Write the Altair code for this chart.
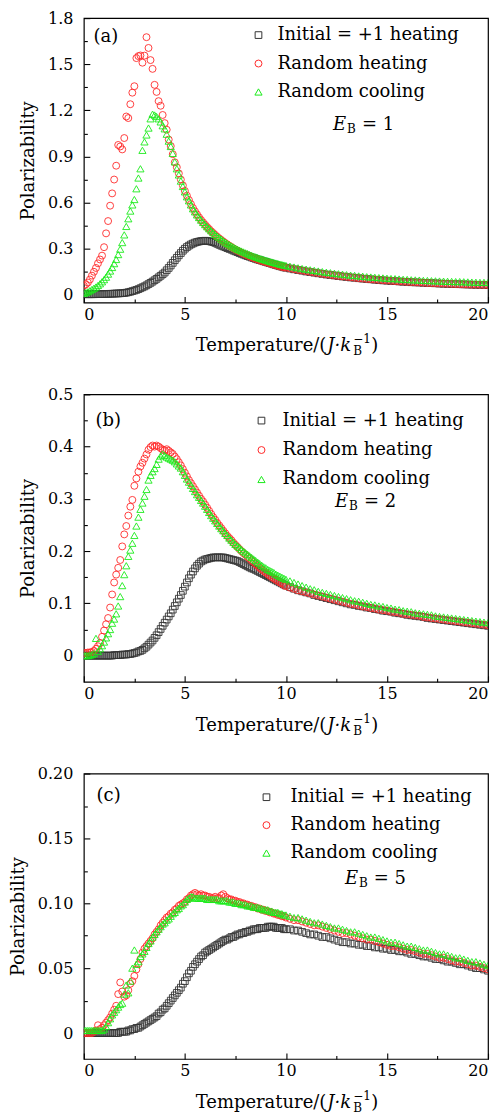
import altair as alt
import pandas as pd

# Temperature grid (J/kB): 0.1 steps up to 10, then 0.2 steps up to 20
T = [
    0.0, 0.1, 0.2, 0.3, 0.4, 0.5, 0.6, 0.7, 0.8, 0.9,
    1.0, 1.1, 1.2, 1.3, 1.4, 1.5, 1.6, 1.7, 1.8, 1.9,
    2.0, 2.1, 2.2, 2.3, 2.4, 2.5, 2.6, 2.7, 2.8, 2.9,
    3.0, 3.1, 3.2, 3.3, 3.4, 3.5, 3.6, 3.7, 3.8, 3.9,
    4.0, 4.1, 4.2, 4.3, 4.4, 4.5, 4.6, 4.7, 4.8, 4.9,
    5.0, 5.1, 5.2, 5.3, 5.4, 5.5, 5.6, 5.7, 5.8, 5.9,
    6.0, 6.1, 6.2, 6.3, 6.4, 6.5, 6.6, 6.7, 6.8, 6.9,
    7.0, 7.1, 7.2, 7.3, 7.4, 7.5, 7.6, 7.7, 7.8, 7.9,
    8.0, 8.1, 8.2, 8.3, 8.4, 8.5, 8.6, 8.7, 8.8, 8.9,
    9.0, 9.1, 9.2, 9.3, 9.4, 9.5, 9.6, 9.7, 9.8, 9.9,
    10.0,
    10.2, 10.4, 10.6, 10.8, 11.0, 11.2, 11.4, 11.6, 11.8, 12.0,
    12.2, 12.4, 12.6, 12.8, 13.0, 13.2, 13.4, 13.6, 13.8, 14.0,
    14.2, 14.4, 14.6, 14.8, 15.0, 15.2, 15.4, 15.6, 15.8, 16.0,
    16.2, 16.4, 16.6, 16.8, 17.0, 17.2, 17.4, 17.6, 17.8, 18.0,
    18.2, 18.4, 18.6, 18.8, 19.0, 19.2, 19.4, 19.6, 19.8, 20.0,
]

SERIES = ["Initial = +1 heating", "Random heating", "Random cooling"]

# ---------------- panel (a), E_B = 1 ----------------
A_SQ = [
    0.004, 0.004, 0.004, 0.004, 0.004, 0.004, 0.005, 0.005, 0.005, 0.005,
    0.005, 0.006, 0.006, 0.007, 0.007, 0.008, 0.009, 0.009, 0.010, 0.011,
    0.012, 0.014, 0.017, 0.020, 0.024, 0.028, 0.032, 0.037, 0.043, 0.049,
    0.055, 0.062, 0.070, 0.078, 0.086, 0.095, 0.104, 0.114, 0.124, 0.134,
    0.145, 0.160, 0.175, 0.191, 0.208, 0.225, 0.241, 0.257, 0.272, 0.287,
    0.300, 0.311, 0.320, 0.328, 0.334, 0.340, 0.344, 0.347, 0.350, 0.351,
    0.352, 0.351, 0.349, 0.346, 0.343, 0.338, 0.332, 0.326, 0.320, 0.315,
    0.310, 0.304, 0.299, 0.294, 0.288, 0.283, 0.278, 0.272, 0.267, 0.262,
    0.257, 0.252, 0.248, 0.243, 0.239, 0.234, 0.230, 0.226, 0.222, 0.218,
    0.214, 0.210, 0.206, 0.202, 0.198, 0.194, 0.190, 0.186, 0.183, 0.179,
    0.176,
    0.171, 0.166, 0.161, 0.157, 0.152, 0.148, 0.144, 0.140, 0.136, 0.132,
    0.129, 0.126, 0.122, 0.119, 0.116, 0.113, 0.111, 0.108, 0.105, 0.103,
    0.101, 0.098, 0.096, 0.094, 0.092, 0.090, 0.089, 0.087, 0.085, 0.084,
    0.082, 0.081, 0.080, 0.078, 0.077, 0.076, 0.075, 0.073, 0.072, 0.071,
    0.070, 0.070, 0.069, 0.068, 0.067, 0.066, 0.065, 0.065, 0.064, 0.063,
]
A_RC = [
    0.060, 0.068, 0.080, 0.100, 0.125, 0.150, 0.175, 0.205, 0.230, 0.255,
    0.310, 0.400, 0.480, 0.580, 0.660, 0.750, 0.840, 0.975, 0.965, 0.946,
    1.020, 1.160, 1.150, 1.240, 1.315, 1.357, 1.540, 1.553, 1.557, 1.510,
    1.556, 1.676, 1.606, 1.527, 1.470, 1.366, 1.320, 1.260, 1.230, 1.170,
    1.117, 1.074, 1.010, 0.968, 0.915, 0.862, 0.830, 0.790, 0.750, 0.712,
    0.676, 0.645, 0.617, 0.590, 0.565, 0.543, 0.523, 0.504, 0.487, 0.471,
    0.456, 0.441, 0.428, 0.414, 0.402, 0.390, 0.378, 0.367, 0.357, 0.347,
    0.337, 0.328, 0.319, 0.311, 0.303, 0.295, 0.288, 0.281, 0.274, 0.268,
    0.262, 0.256, 0.250, 0.245, 0.240, 0.235, 0.230, 0.226, 0.221, 0.217,
    0.213, 0.209, 0.205, 0.201, 0.197, 0.193, 0.189, 0.185, 0.182, 0.179,
    0.177,
    0.172, 0.167, 0.162, 0.158, 0.153, 0.149, 0.145, 0.141, 0.137, 0.133,
    0.130, 0.126, 0.123, 0.120, 0.117, 0.114, 0.111, 0.108, 0.106, 0.103,
    0.101, 0.099, 0.097, 0.095, 0.093, 0.091, 0.089, 0.087, 0.086, 0.084,
    0.083, 0.081, 0.080, 0.079, 0.077, 0.076, 0.075, 0.074, 0.073, 0.072,
    0.071, 0.070, 0.069, 0.068, 0.067, 0.066, 0.066, 0.065, 0.064, 0.064,
]
A_GC = [
    0.010, 0.015, 0.020, 0.027, 0.035, 0.043, 0.051, 0.061, 0.072, 0.085,
    0.099, 0.115, 0.135, 0.155, 0.178, 0.203, 0.230, 0.262, 0.297, 0.340,
    0.390, 0.445, 0.495, 0.545, 0.585, 0.620, 0.690, 0.760, 0.820, 0.940,
    0.995, 1.040, 1.085, 1.145, 1.175, 1.170, 1.160, 1.145, 1.125, 1.100,
    1.080, 1.045, 1.000, 0.965, 0.920, 0.865, 0.820, 0.780, 0.740, 0.705,
    0.670, 0.638, 0.612, 0.585, 0.560, 0.540, 0.520, 0.503, 0.486, 0.471,
    0.457, 0.443, 0.430, 0.417, 0.405, 0.393, 0.382, 0.372, 0.362, 0.352,
    0.343, 0.334, 0.326, 0.318, 0.311, 0.304, 0.297, 0.291, 0.285, 0.279,
    0.273, 0.268, 0.262, 0.257, 0.252, 0.247, 0.243, 0.238, 0.234, 0.230,
    0.226, 0.222, 0.218, 0.214, 0.211, 0.207, 0.204, 0.200, 0.197, 0.194,
    0.191,
    0.186, 0.181, 0.176, 0.171, 0.167, 0.163, 0.159, 0.155, 0.151, 0.147,
    0.144, 0.140, 0.137, 0.134, 0.131, 0.128, 0.126, 0.123, 0.121, 0.118,
    0.116, 0.114, 0.112, 0.110, 0.108, 0.106, 0.105, 0.103, 0.101, 0.100,
    0.098, 0.097, 0.096, 0.094, 0.093, 0.092, 0.091, 0.090, 0.089, 0.088,
    0.087, 0.086, 0.086, 0.085, 0.084, 0.083, 0.082, 0.081, 0.081, 0.080,
]

# ---------------- panel (b), E_B = 2 ----------------
B_SQ = [
    0.000, 0.000, 0.000, 0.000, 0.000, 0.000, 0.000, 0.000, 0.000, 0.000,
    0.000, 0.000, 0.000, 0.000, 0.000, 0.001, 0.001, 0.001, 0.001, 0.002,
    0.002, 0.002, 0.003, 0.003, 0.004, 0.005, 0.006, 0.008, 0.009, 0.011,
    0.014, 0.017, 0.021, 0.025, 0.029, 0.034, 0.039, 0.045, 0.051, 0.057,
    0.063, 0.069, 0.075, 0.081, 0.088, 0.095, 0.102, 0.109, 0.116, 0.124,
    0.132, 0.140, 0.148, 0.155, 0.161, 0.167, 0.172, 0.176, 0.180, 0.182,
    0.184, 0.185, 0.186, 0.187, 0.188, 0.188, 0.188, 0.188, 0.188, 0.188,
    0.187, 0.186, 0.185, 0.184, 0.183, 0.182, 0.181, 0.179, 0.177, 0.175,
    0.173, 0.171, 0.169, 0.167, 0.166, 0.164, 0.162, 0.160, 0.158, 0.156,
    0.154, 0.152, 0.150, 0.148, 0.146, 0.144, 0.142, 0.140, 0.138, 0.136,
    0.134,
    0.131, 0.128, 0.125, 0.123, 0.121, 0.119, 0.116, 0.114, 0.112, 0.110,
    0.108, 0.106, 0.104, 0.102, 0.100, 0.098, 0.097, 0.095, 0.094, 0.092,
    0.091, 0.089, 0.088, 0.086, 0.085, 0.084, 0.082, 0.081, 0.080, 0.078,
    0.077, 0.076, 0.075, 0.074, 0.072, 0.071, 0.070, 0.069, 0.068, 0.067,
    0.066, 0.065, 0.064, 0.063, 0.062, 0.061, 0.060, 0.059, 0.058, 0.057,
]
B_RC = [
    0.005, 0.005, 0.006, 0.006, 0.007, 0.009, 0.013, 0.018, 0.024, 0.036,
    0.048, 0.060, 0.072, 0.092, 0.117, 0.140, 0.155, 0.168, 0.183, 0.209,
    0.232, 0.248, 0.268, 0.285, 0.298, 0.325, 0.339, 0.352, 0.362, 0.369,
    0.377, 0.385, 0.394, 0.399, 0.402, 0.400, 0.402, 0.400, 0.397, 0.394,
    0.393, 0.395, 0.392, 0.389, 0.386, 0.381, 0.376, 0.370, 0.364, 0.357,
    0.350, 0.343, 0.336, 0.330, 0.324, 0.318, 0.312, 0.306, 0.300, 0.295,
    0.289, 0.283, 0.277, 0.271, 0.265, 0.260, 0.254, 0.249, 0.244, 0.239,
    0.234, 0.229, 0.225, 0.221, 0.216, 0.212, 0.208, 0.204, 0.200, 0.196,
    0.193, 0.189, 0.186, 0.182, 0.179, 0.175, 0.172, 0.168, 0.165, 0.162,
    0.159, 0.156, 0.153, 0.150, 0.148, 0.145, 0.143, 0.140, 0.138, 0.135,
    0.133,
    0.130, 0.128, 0.125, 0.123, 0.121, 0.119, 0.117, 0.115, 0.113, 0.111,
    0.109, 0.107, 0.105, 0.103, 0.101, 0.099, 0.098, 0.096, 0.094, 0.093,
    0.091, 0.090, 0.088, 0.087, 0.086, 0.084, 0.083, 0.082, 0.080, 0.079,
    0.078, 0.077, 0.076, 0.074, 0.073, 0.072, 0.071, 0.070, 0.069, 0.068,
    0.067, 0.066, 0.065, 0.064, 0.063, 0.062, 0.061, 0.060, 0.059, 0.058,
]
B_GC = [
    0.000, 0.000, 0.000, 0.001, 0.002, 0.004, 0.033, 0.008, 0.013, 0.019,
    0.026, 0.034, 0.042, 0.050, 0.062, 0.070, 0.080, 0.095, 0.113, 0.134,
    0.155, 0.172, 0.190, 0.202, 0.215, 0.230, 0.248, 0.265, 0.280, 0.292,
    0.305, 0.318, 0.336, 0.345, 0.352, 0.358, 0.366, 0.376, 0.382, 0.386,
    0.383, 0.380, 0.378, 0.376, 0.374, 0.371, 0.367, 0.363, 0.359, 0.352,
    0.345, 0.338, 0.332, 0.326, 0.320, 0.314, 0.308, 0.303, 0.297, 0.292,
    0.286, 0.280, 0.274, 0.268, 0.263, 0.258, 0.253, 0.248, 0.243, 0.239,
    0.234, 0.230, 0.225, 0.221, 0.217, 0.213, 0.210, 0.207, 0.203, 0.200,
    0.197, 0.194, 0.191, 0.188, 0.185, 0.182, 0.179, 0.176, 0.173, 0.170,
    0.168, 0.165, 0.163, 0.161, 0.159, 0.156, 0.154, 0.152, 0.150, 0.148,
    0.146,
    0.143, 0.140, 0.137, 0.134, 0.131, 0.128, 0.126, 0.123, 0.121, 0.119,
    0.117, 0.115, 0.113, 0.111, 0.109, 0.107, 0.105, 0.104, 0.102, 0.100,
    0.098, 0.097, 0.095, 0.094, 0.092, 0.091, 0.089, 0.088, 0.086, 0.085,
    0.084, 0.082, 0.081, 0.080, 0.079, 0.078, 0.076, 0.075, 0.074, 0.073,
    0.072, 0.071, 0.070, 0.069, 0.068, 0.067, 0.066, 0.065, 0.064, 0.063,
]

# ---------------- panel (c), E_B = 5 ----------------
C_SQ = [
    0.000, 0.000, 0.000, 0.000, 0.000, 0.000, 0.000, 0.000, 0.000, 0.000,
    0.000, 0.000, 0.000, 0.000, 0.000, 0.000, 0.000, 0.000, 0.001, 0.001,
    0.001, 0.001, 0.002, 0.002, 0.003, 0.003, 0.004, 0.004, 0.005, 0.006,
    0.007, 0.008, 0.009, 0.010, 0.011, 0.012, 0.013, 0.015, 0.016, 0.018,
    0.019, 0.021, 0.023, 0.025, 0.027, 0.029, 0.031, 0.033, 0.035, 0.038,
    0.040, 0.043, 0.046, 0.048, 0.051, 0.053, 0.055, 0.057, 0.059, 0.060,
    0.062, 0.063, 0.064, 0.065, 0.066, 0.067, 0.068, 0.069, 0.070, 0.071,
    0.072, 0.072, 0.073, 0.074, 0.074, 0.075, 0.076, 0.076, 0.077, 0.077,
    0.078, 0.078, 0.079, 0.079, 0.080, 0.080, 0.080, 0.081, 0.081, 0.081,
    0.081, 0.082, 0.082, 0.082, 0.082, 0.081, 0.081, 0.081, 0.081, 0.080,
    0.080,
    0.080, 0.079, 0.079, 0.078, 0.077, 0.076, 0.076, 0.075, 0.074, 0.074,
    0.073, 0.072, 0.071, 0.070, 0.070, 0.069, 0.069, 0.068, 0.068, 0.067,
    0.067, 0.066, 0.066, 0.065, 0.065, 0.064, 0.064, 0.063, 0.063, 0.062,
    0.061, 0.061, 0.060, 0.059, 0.059, 0.058, 0.057, 0.057, 0.056, 0.055,
    0.055, 0.054, 0.053, 0.053, 0.052, 0.051, 0.050, 0.050, 0.049, 0.048,
]
C_RC = [
    0.000, 0.000, 0.000, 0.000, 0.000, 0.001, 0.002, 0.006, 0.003, 0.004,
    0.006, 0.008, 0.010, 0.012, 0.015, 0.018, 0.021, 0.030, 0.039, 0.032,
    0.028, 0.029, 0.033, 0.038, 0.040, 0.044, 0.049, 0.053, 0.057, 0.062,
    0.065, 0.067, 0.069, 0.071, 0.073, 0.076, 0.078, 0.080, 0.083, 0.085,
    0.087, 0.089, 0.090, 0.092, 0.093, 0.095, 0.096, 0.098, 0.099, 0.100,
    0.101, 0.103, 0.104, 0.106, 0.107, 0.108, 0.107, 0.106, 0.107, 0.106,
    0.106, 0.105, 0.105, 0.104, 0.104, 0.105, 0.104, 0.104, 0.106, 0.107,
    0.105, 0.104, 0.103, 0.103, 0.102, 0.102, 0.101, 0.101, 0.100, 0.100,
    0.099, 0.099, 0.098, 0.098, 0.097, 0.097, 0.096, 0.096, 0.095, 0.095,
    0.094, 0.094, 0.093, 0.093, 0.092, 0.092, 0.091, 0.091, 0.090, 0.090,
    0.089,
    0.088, 0.087, 0.087, 0.086, 0.085, 0.084, 0.083, 0.083, 0.082, 0.081,
    0.080, 0.079, 0.078, 0.077, 0.077, 0.076, 0.075, 0.074, 0.073, 0.072,
    0.072, 0.071, 0.070, 0.069, 0.068, 0.067, 0.067, 0.066, 0.065, 0.064,
    0.064, 0.063, 0.062, 0.061, 0.061, 0.060, 0.059, 0.058, 0.058, 0.057,
    0.056, 0.055, 0.055, 0.054, 0.053, 0.052, 0.052, 0.051, 0.050, 0.049,
]
C_GC = [
    0.002, 0.002, 0.002, 0.002, 0.002, 0.002, 0.002, 0.002, 0.002, 0.002,
    0.003, 0.005, 0.008, 0.011, 0.014, 0.016, 0.018, 0.020, 0.022, 0.023,
    0.030, 0.037, 0.031, 0.040, 0.050, 0.064, 0.053, 0.055, 0.059, 0.061,
    0.063, 0.066, 0.069, 0.071, 0.074, 0.076, 0.078, 0.080, 0.082, 0.084,
    0.085, 0.087, 0.088, 0.090, 0.092, 0.093, 0.095, 0.096, 0.098, 0.099,
    0.101, 0.103, 0.104, 0.105, 0.105, 0.104, 0.104, 0.104, 0.104, 0.104,
    0.104, 0.103, 0.103, 0.103, 0.103, 0.103, 0.103, 0.102, 0.102, 0.102,
    0.102, 0.102, 0.101, 0.101, 0.101, 0.100, 0.100, 0.100, 0.099, 0.099,
    0.099, 0.098, 0.098, 0.098, 0.097, 0.097, 0.097, 0.096, 0.096, 0.095,
    0.095, 0.095, 0.094, 0.094, 0.093, 0.093, 0.093, 0.092, 0.092, 0.091,
    0.091,
    0.090, 0.089, 0.089, 0.088, 0.087, 0.086, 0.085, 0.085, 0.084, 0.083,
    0.082, 0.081, 0.081, 0.080, 0.079, 0.078, 0.078, 0.077, 0.076, 0.075,
    0.074, 0.074, 0.073, 0.072, 0.071, 0.070, 0.070, 0.069, 0.068, 0.067,
    0.067, 0.066, 0.065, 0.064, 0.064, 0.063, 0.062, 0.061, 0.061, 0.060,
    0.059, 0.058, 0.058, 0.057, 0.056, 0.055, 0.055, 0.054, 0.053, 0.052,
]

for _s in (A_SQ, A_RC, A_GC, B_SQ, B_RC, B_GC, C_SQ, C_RC, C_GC):
    assert len(_s) == len(T), len(_s)

X_MAJOR = [0, 5, 10, 15, 20]
X_MINOR = [2.5, 7.5, 12.5, 17.5]

FONT = "DejaVu Serif"
COLORS = ["#333333", "#ff2a2a", "#1aeb1a"]
SHAPES = ["square", "circle", "triangle-up"]
SIZES = [45, 52, 72]

# x-axis title pieces: Temperature/(J·k_B^-1)
XT_MAIN = "Temperature/("
XT_ITAL = "J·k"
XT_SUB = "B"
XT_SUP = "−1"
XT_CLOSE = ")"


def make_df(sq, rc, gc):
    rows = []
    for name, vals in zip(SERIES, (sq, rc, gc)):
        for t, v in zip(T, vals):
            rows.append({"T": t, "P": v, "series": name})
    return pd.DataFrame(rows)


def text_layer(df, xs, ys, field, **kw):
    return alt.Chart(df).mark_text(color="black", font=FONT, **kw).encode(
        x=alt.X("T:Q", scale=xs, axis=None),
        y=alt.Y("P:Q", scale=ys, axis=None),
        text=f"{field}:N",
    )


def panel(df, ydom, ymaj, ymin, yfmt, height, leg, tag, tagpos, eb, ebpos):
    xs = alt.Scale(domain=[0, 20], nice=False, zero=False)
    ys = alt.Scale(domain=ydom, nice=False, zero=False)
    label_expr = f"datum.value == 0 ? '0' : format(datum.value, '{yfmt}')"
    legend = alt.Legend(
        title=None, orient="none", legendX=leg[0], legendY=leg[1],
        labelFont=FONT, labelFontSize=18, labelColor="black", labelLimit=400,
        symbolSize=55, symbolStrokeWidth=1, rowPadding=leg[2], labelOffset=leg[3],
        padding=0,
    )
    pts = alt.Chart(df).mark_point(filled=False, strokeWidth=0.9, opacity=1, clip=True).encode(
        x=alt.X("T:Q", scale=xs, axis=alt.Axis(
            values=X_MAJOR, format="d", tickSize={"expr": "-6"}, labelPadding=10,
            title=None, orient="bottom")),
        y=alt.Y("P:Q", scale=ys, axis=alt.Axis(
            values=ymaj, labelExpr=label_expr, tickSize={"expr": "-6"}, labelPadding=17,
            title="Polarizability", titlePadding=10, orient="left")),
        color=alt.Color("series:N", scale=alt.Scale(domain=SERIES, range=COLORS), legend=legend),
        shape=alt.Shape("series:N", scale=alt.Scale(domain=SERIES, range=SHAPES), legend=legend),
        size=alt.Size("series:N", scale=alt.Scale(domain=SERIES, range=SIZES), legend=None),
    )
    minor = alt.Chart(df).mark_point(opacity=0).encode(
        x=alt.X("T:Q", scale=xs, axis=alt.Axis(
            values=X_MINOR, labels=False, tickSize={"expr": "-3.5"}, title=None, orient="bottom")),
        y=alt.Y("P:Q", scale=ys, axis=alt.Axis(
            values=ymin, labels=False, tickSize={"expr": "-3.5"}, title=None, orient="left")),
    )
    tag_df = pd.DataFrame([{"T": tagpos[0], "P": tagpos[1], "txt": tag}])
    tag_l = text_layer(tag_df, xs, ys, "txt", fontSize=18, align="left", baseline="alphabetic")

    eb_df = pd.DataFrame([{"T": ebpos[0], "P": ebpos[1], "e": "E", "b": "B", "r": "= " + eb}])
    e_l = text_layer(eb_df, xs, ys, "e", fontSize=18, fontStyle="italic", align="left", baseline="alphabetic")
    b_l = text_layer(eb_df, xs, ys, "b", fontSize=12, align="left", baseline="alphabetic", dx=14, dy=3)
    r_l = text_layer(eb_df, xs, ys, "r", fontSize=18, align="left", baseline="alphabetic", dx=29)

    # x-axis title, placed 49 px under the plot through the y scale
    y_title = ydom[0] - 49 * (ydom[1] - ydom[0]) / height
    xt_df = pd.DataFrame([{"T": 12.0, "P": y_title, "m": XT_MAIN, "i": XT_ITAL,
                           "s": XT_SUB, "u": XT_SUP, "c": XT_CLOSE}])
    xt_main = text_layer(xt_df, xs, ys, "m", fontSize=18, align="right", baseline="alphabetic", clip=False)
    xt_ital = text_layer(xt_df, xs, ys, "i", fontSize=18, fontStyle="italic", align="left",
                         baseline="alphabetic", dx=1, clip=False)
    xt_sub = text_layer(xt_df, xs, ys, "s", fontSize=12, align="left", baseline="alphabetic",
                        dx=27, dy=4, clip=False)
    xt_sup = text_layer(xt_df, xs, ys, "u", fontSize=12, align="left", baseline="alphabetic",
                        dx=27, dy=-8, clip=False)
    xt_close = text_layer(xt_df, xs, ys, "c", fontSize=18, align="left", baseline="alphabetic",
                          dx=45, clip=False)

    return alt.layer(minor, pts, tag_l, e_l, b_l, r_l,
                     xt_main, xt_ital, xt_sub, xt_sup, xt_close).resolve_axis(
        x="independent", y="independent"
    ).properties(width=405, height=height)


pa = panel(make_df(A_SQ, A_RC, A_GC), [-0.05, 1.8],
           [0, 0.3, 0.6, 0.9, 1.2, 1.5, 1.8], [0.15, 0.45, 0.75, 1.05, 1.35, 1.65], ".1f",
           285, (166, 8.0, 10.5, 10), "(a)", (0.48, 1.644), "1", (12.33, 1.075))
pb = panel(make_df(B_SQ, B_RC, B_GC), [-0.05, 0.5],
           [0, 0.1, 0.2, 0.3, 0.4, 0.5], [0.05, 0.15, 0.25, 0.35, 0.45], ".1f",
           288, (169, 17.3, 11.5, 12), "(b)", (0.58, 0.439), "2", (12.43, 0.284))
pc = panel(make_df(C_SQ, C_RC, C_GC), [-0.02, 0.2],
           [0, 0.05, 0.10, 0.15, 0.20], [0.025, 0.075, 0.125, 0.175], ".2f",
           286, (174, 14.7, 10, 15), "(c)", (0.63, 0.1785), "5", (12.92, 0.1145))

chart = alt.vconcat(pa, pb, pc, spacing=27).resolve_legend(
    color="independent", shape="independent", size="independent"
).properties(padding=0, background="white").configure_view(
    stroke="black", strokeWidth=1.2
).configure_axis(
    labelFont=FONT, titleFont=FONT, labelFontSize=16, titleFontSize=18,
    titleFontWeight="normal", labelColor="black", titleColor="black",
    tickColor="black", tickWidth=1.1, grid=False, domain=False,
)

chart.save("out.html", embed_options={"renderer": "svg", "actions": False})
